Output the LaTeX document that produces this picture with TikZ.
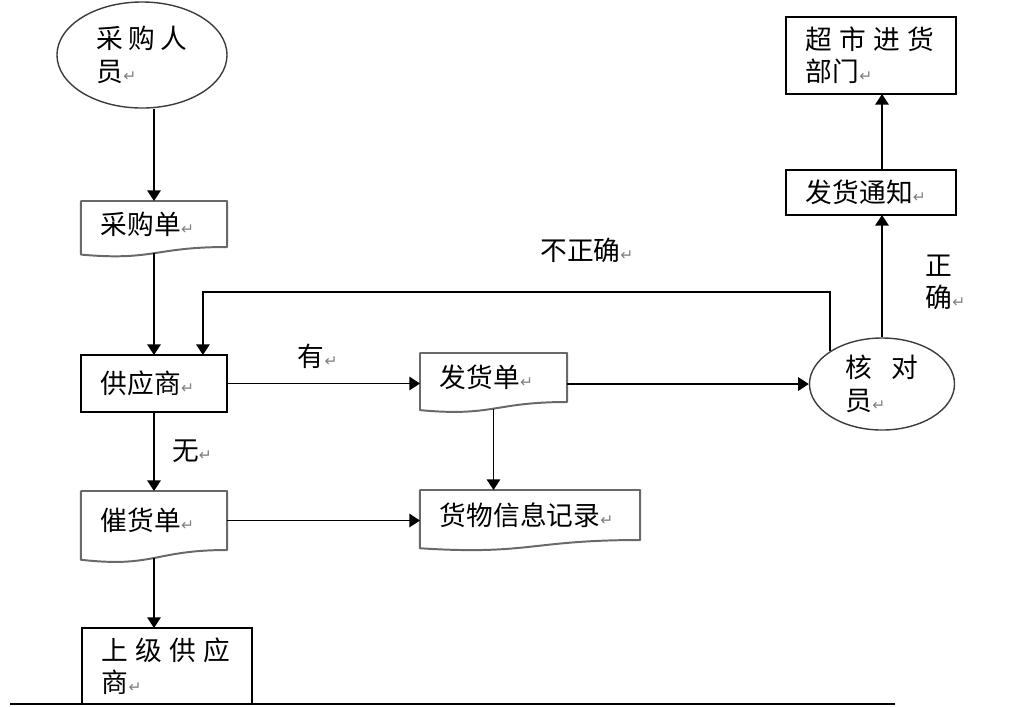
\documentclass[tikz,border=0pt]{standalone}
\usepackage{fontspec}
\setmainfont{Noto Sans CJK SC}
\newfontfamily\retfont{DejaVu Sans}
\usepackage{tikz}
\usetikzlibrary{shapes.geometric, arrows.meta, positioning, calc}
\definecolor{docgray}{RGB}{105, 105, 105}
\definecolor{ringgray}{RGB}{60, 60, 60}
\newcommand{\ret}{{\retfont\fontsize{11}{11}\selectfont\color{gray}↵}}
\newcommand{\cnfont}{\fontsize{19}{23}\selectfont}
\tikzstyle{person} = [ellipse, draw=ringgray, line width=1pt, align=left, inner sep=0pt, font=\cnfont]
\tikzstyle{box} = [rectangle, draw=black, line width=1.4pt, align=left, inner xsep=0.5cm, inner ysep=0pt, outer sep=0pt, font=\cnfont]
\tikzstyle{doc} = [rectangle, align=left, inner xsep=0.5cm, inner ysep=0pt, outer sep=0pt, font=\cnfont]
\tikzstyle{docedge} = [draw=docgray, line width=1.4pt, line join=round]
\tikzstyle{arrow} = [line width=1.2pt, -{Triangle[length=7.5pt, width=9.5pt]}]
\tikzstyle{lbl} = [inner sep=0pt, align=left, font=\cnfont]
% document outline with wavy bottom, plus the point on the wave below its centre
\newcommand{\wavedoc}[1]{%
  \draw[docedge] (#1.south east) -- (#1.north east) -- (#1.north west)
    -- ($(#1.south west)!-0.165!(#1.north west)$)
    .. controls ($(#1.south)!-0.305!(#1.north)$) and (#1.south) .. (#1.south east) -- cycle;
  \coordinate (#1-b) at ($(#1.south)!-0.135!(#1.north)$);}

\begin{document}
\begin{tikzpicture}[x=0.025cm, y=-0.025cm]
    \useasboundingbox (0,0) rectangle (1036,706);

    % People
    \node[person, minimum width=4.25cm, minimum height=2.65cm] (buyer) at (142,55) {采\hspace{.13cm}购\hspace{.13cm}人\\员\ret};
    \node[person, minimum width=3.625cm, minimum height=2.3cm] (checker) at (882,384) {核\hspace{.48cm}对\\员\ret};

    % Boxes
    \node[box, text width=3.25cm, minimum height=1.925cm] (dept) at (871,55.5) {超\hspace{.18cm}市\hspace{.18cm}进\hspace{.18cm}货\\部门\ret};
    \node[box, text width=3.25cm, minimum height=1.125cm] (notice) at (871,192.5) {发货通知\ret};
    \node[box, text width=2.65cm, minimum height=1.425cm] (supplier) at (154,383.5) {供应商\ret};
    \node[box, text width=3.25cm, minimum height=1.9cm] (upper) at (167,666) {上\hspace{.18cm}级\hspace{.18cm}供\hspace{.18cm}应\\商\ret};

    % Documents
    \node[doc, text width=2.65cm, minimum height=1.15cm] (order) at (154,224) {采购单\ret};
    \node[doc, text width=2.675cm, minimum height=1.225cm] (invoice) at (493.5,377.5) {发货单\ret};
    \node[doc, text width=4.5cm, minimum height=1.25cm] (record) at (530,515) {货物信息记录\ret};
    \node[doc, text width=2.65cm, minimum height=1.475cm] (reminder) at (154,520.5) {催货单\ret};
    \wavedoc{order}
    \wavedoc{invoice}
    \wavedoc{record}
    \wavedoc{reminder}

    % Arrows
    \draw[arrow] (buyer.south -| order.north) -- (order.north);
    \draw[arrow] (order-b) -- (order-b |- supplier.north);
    \draw[arrow] (supplier.east) -- node[lbl, above=0.35cm, pos=0.47] (yes) {有\ret} (supplier.east -| invoice.west);
    \draw[arrow] (supplier.south) -- node[lbl, right=0.43cm] (no) {无\ret} (reminder.north);
    \draw[arrow] (invoice.east |- checker.west) -- (checker.west);
    \draw[arrow] (invoice-b) -- (invoice-b |- record.north);
    \draw[arrow] (reminder.east) -- (reminder.east -| record.west);
    \draw[arrow] (reminder-b) -- (reminder-b |- upper.north);
    \coordinate (back) at ($(supplier.north)!0.67!(supplier.north east)$);
    \draw[arrow] (checker.north west) -- (checker.north west |- 0,292)
        -| node[lbl, above=0.7cm, pos=0.194] (wrong) {不正确\ret} (back);
    \draw[arrow] (checker.north) -- node[lbl, right=1.07cm, pos=0.45] (right) {正\\确\ret} (checker.north |- notice.south);
    \draw[arrow] (notice.north -| checker.north) -- (dept.south -| checker.north);

    % page rule
    \draw[line width=1pt] (10,704) -- (895,704);
\end{tikzpicture}
\end{document}
